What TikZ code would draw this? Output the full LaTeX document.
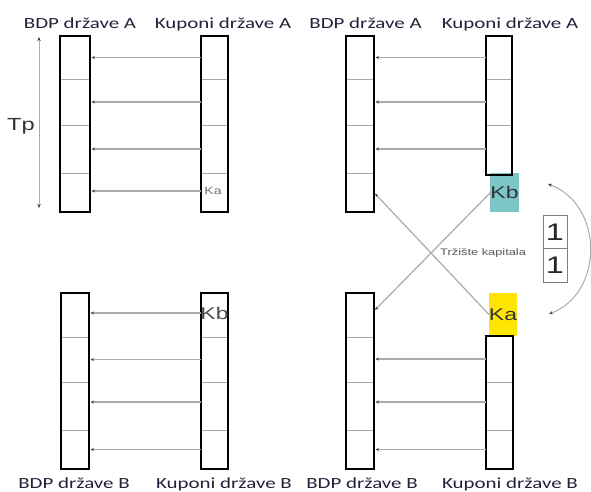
\documentclass[tikz,border=0pt]{standalone}
\usepackage{fontspec}
\setmainfont{Carlito}
\newfontfamily\ttlfont[FakeStretch=1.35]{Carlito}
\newfontfamily\arlfont[FakeStretch=1.35]{Liberation Sans}
\usetikzlibrary{arrows.meta,fit}
\definecolor{kbcyan}{HTML}{7CC6C8}
\definecolor{kayel}{HTML}{FFE600}
\definecolor{ttlcol}{HTML}{24203A}
\definecolor{linegray}{HTML}{ABABAB}
\definecolor{divgray}{HTML}{A8A8A8}
\newcommand\mycell[5]{\node[cellbox, fit={(#2,#3) (#4,#5)}] (#1) {};}
\begin{document}
\begin{tikzpicture}[x=1pt,y=-1pt,
  cellbox/.style={inner sep=0pt, outer sep=0pt},
  colbox/.style={draw=black, line width=1.4pt, inner sep=0pt, outer sep=0pt},
  div/.style={draw=divgray, line width=0.9pt},
  arr/.style={draw=linegray, line width=1.2pt, -{Stealth[length=3.5pt,width=3pt,color=black!75]}, shorten >=1.5pt},
  dbl/.style={draw=linegray, line width=1pt, {Stealth[length=4pt,width=3.5pt,color=black!75]}-{Stealth[length=4pt,width=3.5pt,color=black!75]}},
  title/.style={font=\ttlfont\fontsize{15.5}{18}\selectfont, text=ttlcol, anchor=base, inner sep=0pt},
  kfont/.style={font=\arlfont\fontsize{17}{19}\selectfont, text=black!80, inner sep=0pt, outer sep=0pt},
  onebox/.style={draw=black!50, line width=0.9pt, minimum width=24pt, minimum height=33.5pt, inner sep=0pt, font=\arlfont\fontsize{24}{26}\selectfont, text=black!85},
]
\useasboundingbox (0,0) rectangle (591,491);

% ---------- titles ----------
\node[title] (t1) at (80,28.5) {BDP države A};
\node[title] (t2) at (223,28.5) {Kuponi države A};
\node[title] (t3) at (365.5,28.5) {BDP države A};
\node[title] (t4) at (510,28.5) {Kuponi države A};
\node[title] (t5) at (74,488) {BDP države B};
\node[title] (t6) at (224,488) {Kuponi države B};
\node[title] (t7) at (362,488) {BDP države B};
\node[title] (t8) at (510,488) {Kuponi države B};

% ---------- top-left ----------
\mycell{tlB1}{60}{36}{90}{79}
\mycell{tlB2}{60}{79}{90}{125}
\mycell{tlB3}{60}{125}{90}{173}
\mycell{tlB4}{60}{173}{90}{212}
\mycell{tlK1}{201}{36}{228}{79}
\mycell{tlK2}{201}{79}{228}{125}
\mycell{tlK3}{201}{125}{228}{173}
\mycell{tlK4}{201}{173}{228}{212}
\foreach \c in {tlB1,tlB2,tlB3,tlK1,tlK2,tlK3}{\draw[div] (\c.south west) -- (\c.south east);}
\node[colbox, fit=(tlB1)(tlB4)] (tlB) {};
\node[colbox, fit=(tlK1)(tlK4)] (tlK) {};
\node[kfont, font=\arlfont\fontsize{10.5}{12}\selectfont, text=black!55] (kaS) at (213,191) {Ka};
\draw[arr] (tlK1.west) -- (tlK1.west -| tlB1.east);
\draw[arr] (tlK2.west) -- (tlK2.west -| tlB2.east);
\draw[arr] (tlK3.west) -- (tlK3.west -| tlB3.east);
\draw[arr] (tlK4.west |- kaS) -- (kaS -| tlB4.east);
\node[font=\arlfont\fontsize{17.5}{20}\selectfont, text=black!80] (tp) at (21,126) {Tp};
\coordinate (tpT) at (39,37);
\coordinate (tpB) at (39,208);
\draw[dbl] (tpT) -- (tpB);

% ---------- top-right ----------
\mycell{trB1}{346}{36}{374}{79}
\mycell{trB2}{346}{79}{374}{125}
\mycell{trB3}{346}{125}{374}{173}
\mycell{trB4}{346}{173}{374}{212}
\mycell{trK1}{486}{36}{512}{79}
\mycell{trK2}{486}{79}{512}{125}
\mycell{trK3}{486}{125}{512}{175}
\foreach \c in {trB1,trB2,trB3,trK1,trK2}{\draw[div] (\c.south west) -- (\c.south east);}
\node[kfont, fill=kbcyan, minimum width=27pt, minimum height=39pt] (Kb) at (504.5,192.5) {Kb};
\node[colbox, fit=(trB1)(trB4)] (trB) {};
\node[colbox, fit=(trK1)(trK3)] (trK) {};
\draw[arr] (trK1.west) -- (trK1.west -| trB1.east);
\draw[arr] (trK2.west) -- (trK2.west -| trB2.east);
\draw[arr] ([yshift=1pt]trK3.west) -- ([yshift=1pt]trK3.west -| trB3.east);

% ---------- bottom-left ----------
\mycell{blB1}{61}{293}{89}{337}
\mycell{blB2}{61}{337}{89}{382}
\mycell{blB3}{61}{382}{89}{430}
\mycell{blB4}{61}{430}{89}{469}
\mycell{blK1}{201}{293}{228}{337}
\mycell{blK2}{201}{337}{228}{382}
\mycell{blK3}{201}{382}{228}{430}
\mycell{blK4}{201}{430}{228}{469}
\foreach \c in {blB1,blB2,blB3,blK1,blK2,blK3}{\draw[div] (\c.south west) -- (\c.south east);}
\node[colbox, fit=(blB1)(blB4)] (blB) {};
\node[colbox, fit=(blK1)(blK4)] (blK) {};
\node[kfont, text=black!70] (kbS) at (214.5,313) {Kb};
\draw[arr] (blK1.west |- kbS) -- (kbS -| blB1.east);
\draw[arr] (blK2.west) -- (blK2.west -| blB2.east);
\draw[arr] ([yshift=4pt]blK3.west) -- ([yshift=4pt]blK3.west -| blB3.east);
\draw[arr] (blK4.west) -- (blK4.west -| blB4.east);

% ---------- bottom-right ----------
\mycell{brB1}{346}{293}{374}{337}
\mycell{brB2}{346}{337}{374}{382}
\mycell{brB3}{346}{382}{374}{430}
\mycell{brB4}{346}{430}{374}{469}
\mycell{brK2}{486}{336}{513}{382}
\mycell{brK3}{486}{382}{513}{430}
\mycell{brK4}{486}{430}{513}{469}
\foreach \c in {brB1,brB2,brB3,brK2,brK3}{\draw[div] (\c.south west) -- (\c.south east);}
\node[kfont, fill=kayel, minimum width=28pt, minimum height=43pt] (Ka) at (503,314.5) {Ka};
\node[colbox, fit=(brB1)(brB4)] (brB) {};
\node[colbox, fit=(brK2)(brK4)] (brK) {};
\draw[arr] (brK2.west) -- (brK2.west -| brB2.east);
\draw[arr] ([yshift=4pt]brK3.west) -- ([yshift=4pt]brK3.west -| brB3.east);
\draw[arr] (brK4.west) -- (brK4.west -| brB4.east);

% ---------- capital market ----------
\draw[arr] (Kb.west) -- ([yshift=4pt]brB1.east);
\draw[arr] (Ka.west) -- (trB4.east);
\node[font=\arlfont\fontsize{9.5}{11}\selectfont, text=black!65, anchor=west, inner sep=0pt] (tk) at (440,253) {Tržište kapitala};

\node[onebox] (one1) at (555,232) {1};
\node[onebox] (one2) at (555,265.5) {1};

\coordinate (cTop) at (548,184);
\coordinate (cBot) at (549,314);
\draw[dbl] (cTop) .. controls (604,205) and (604,293) .. (cBot);
\end{tikzpicture}
\end{document}
